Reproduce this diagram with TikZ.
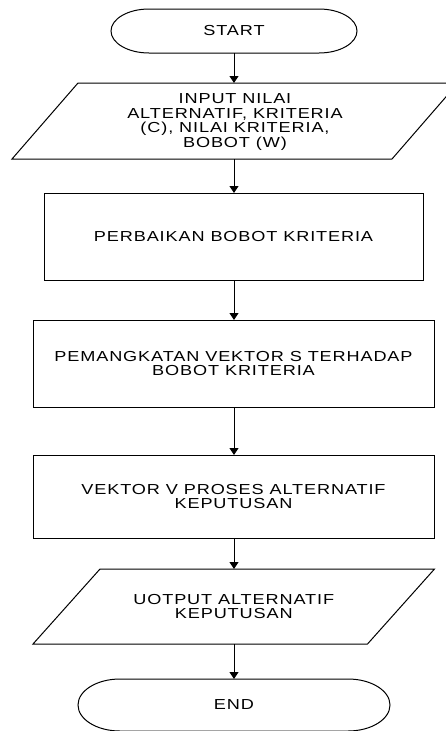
\documentclass[tikz,border=0pt]{standalone}
\usepackage{fontspec}
\usetikzlibrary{arrows.meta}
\newfontfamily\diagfont{Liberation Sans}[FakeStretch=1.25,LetterSpace=6]
\tikzset{
  lbl/.style={font=\diagfont\fontsize{14.5pt}{14.5pt}\selectfont, align=center, inner sep=0pt, outer sep=0pt},
  procbox/.style={lbl, draw, line width=1pt},
  shapeline/.style={draw, line width=1pt},
  arr/.style={line width=1pt, -{Triangle[length=7pt,width=9pt]}}
}
\begin{document}
\begin{tikzpicture}[x=1pt,y=-1pt]
\fill[white] (0,0) rectangle (446,731);
\useasboundingbox (0,0) rectangle (446,731);

% START terminal
\node[lbl, minimum width=246pt, minimum height=44pt] (start) at (234,31) {START};
\draw[shapeline] ([xshift=38pt]start.north west) -- ([xshift=-38pt]start.north east)
  arc[start angle=90, end angle=-90, x radius=38pt, y radius=22pt]
  -- ([xshift=38pt]start.south west)
  arc[start angle=270, end angle=90, x radius=38pt, y radius=22pt] -- cycle;

% Input parallelogram
\node[lbl, minimum width=380pt, minimum height=76pt] (inp) at (235,122)
  {INPUT NILAI\\ALTERNATIF, KRITERIA\\(C), NILAI KRITERIA,\\BOBOT (W)};
\draw[shapeline] ([xshift=33pt,yshift=1pt]inp.north west) -- ([xshift=33pt,yshift=1pt]inp.north east)
  -- ([xshift=-33pt,yshift=1pt]inp.south east) -- ([xshift=-33pt,yshift=1pt]inp.south west) -- cycle;

% Process boxes
\node[procbox, minimum width=379pt, minimum height=87pt] (b1) at (233.5,236.5)
  {PERBAIKAN BOBOT KRITERIA};
\node[procbox, minimum width=401pt, minimum height=87pt] (b2) at (233.5,363.5)
  {PEMANGKATAN VEKTOR S TERHADAP\\BOBOT KRITERIA};
\node[procbox, minimum width=401pt, minimum height=83pt] (b3) at (233.5,496.5)
  {VEKTOR V PROSES ALTERNATIF\\KEPUTUSAN};

% Output parallelogram
\node[lbl, minimum width=334.5pt, minimum height=75pt] (outp) at (233.75,606.5)
  {UOTPUT ALTERNATIF\\KEPUTUSAN};
\draw[shapeline] ([xshift=33.5pt]outp.north west) -- ([xshift=33.5pt]outp.north east)
  -- ([xshift=-33.5pt]outp.south east) -- ([xshift=-33.5pt]outp.south west) -- cycle;

% END terminal
\node[lbl, minimum width=312pt, minimum height=52pt] (endn) at (234,705) {END};
\draw[shapeline] ([xshift=42pt]endn.north west) -- ([xshift=-42pt]endn.north east)
  arc[start angle=90, end angle=-90, x radius=42pt, y radius=26pt]
  -- ([xshift=42pt]endn.south west)
  arc[start angle=270, end angle=90, x radius=42pt, y radius=26pt] -- cycle;

% Connectors
\draw[arr] (start.south) -- ([yshift=1pt]start.south |- inp.north);
\draw[arr] ([yshift=1pt]start.south |- inp.south) -- (start.south |- b1.north);
\draw[arr] (start.south |- b1.south) -- (start.south |- b2.north);
\draw[arr] (start.south |- b2.south) -- (start.south |- b3.north);
\draw[arr] (start.south |- b3.south) -- (start.south |- outp.north);
\draw[arr] (start.south |- outp.south) -- (endn.north);
\end{tikzpicture}
\end{document}
